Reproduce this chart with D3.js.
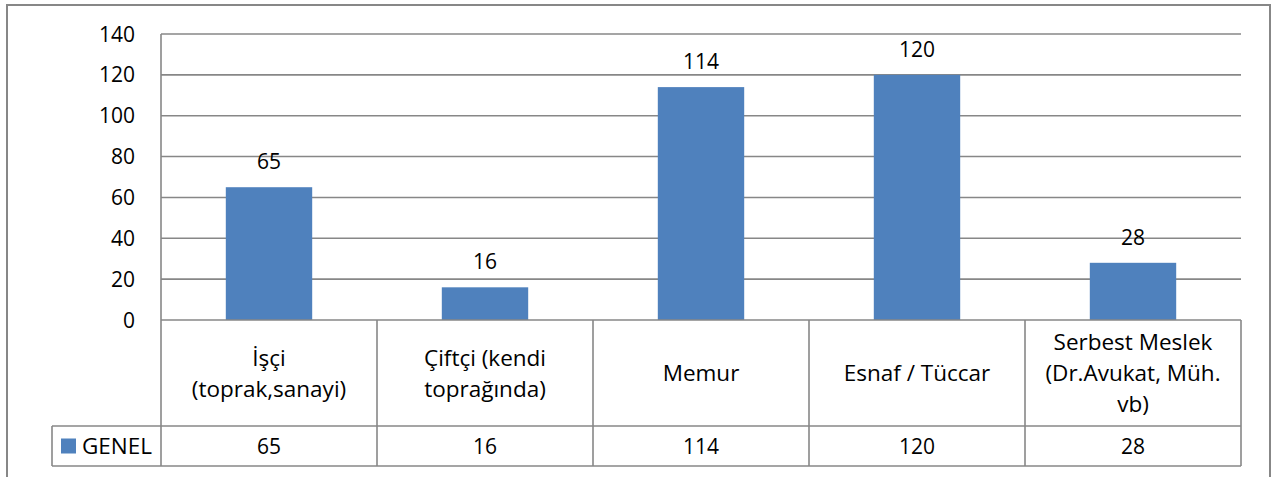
<!DOCTYPE html>
<html>
<head>
<meta charset="utf-8">
<script src="https://cdn.jsdelivr.net/npm/d3@7"></script>
<style>
  body { margin: 0; background: #fff; }
  svg { display: block; font-family: "Open Sans", "Liberation Sans", sans-serif; }
</style>
</head>
<body>
<svg id="chart"></svg>
<script>
// chart data
const categories = [
  ["İşçi", "(toprak,sanayi)"],
  ["Çiftçi (kendi", "toprağında)"],
  ["Memur"],
  ["Esnaf / Tüccar"],
  ["Serbest Meslek", "(Dr.Avukat, Müh.", "vb)"]
];
const seriesName = "GENEL";
const values = [65, 16, 114, 120, 28];
const yTicks = [0, 20, 40, 60, 80, 100, 120, 140];

const width = 1274, height = 477;
const plot = { left: 161, right: 1241, top: 34, bottom: 320 };
const tableRow1 = 426, tableBottom = 466, legendLeft = 52;
const gridColor = "#878787";
const barColor = "#4f81bd";
const numSize = 21, textSize = 22.5;

const svg = d3.select("#chart").attr("width", width).attr("height", height);

// outer chart frame (bottom runs off the picture)
svg.append("path")
  .attr("d", `M7,${height + 2} V5 H1270 V${height + 2}`)
  .attr("fill", "none")
  .attr("stroke", gridColor)
  .attr("stroke-width", 2);

const idx = categories.map((d, i) => i);

const x = d3.scaleBand()
  .domain(idx)
  .range([plot.left, plot.right])
  .paddingInner(0.6)
  .paddingOuter(0.3);

const xCol = d3.scaleBand()
  .domain(idx)
  .range([plot.left, plot.right]);

const y = d3.scaleLinear()
  .domain([0, 140])
  .range([plot.bottom, plot.top]);

// gridlines
svg.append("g")
  .selectAll("line")
  .data(yTicks.slice(1))
  .join("line")
  .attr("x1", plot.left)
  .attr("x2", plot.right)
  .attr("y1", d => y(d))
  .attr("y2", d => y(d))
  .attr("stroke", gridColor)
  .attr("stroke-width", 1.6);

// y axis line
svg.append("line")
  .attr("x1", plot.left).attr("x2", plot.left)
  .attr("y1", plot.top).attr("y2", plot.bottom)
  .attr("stroke", gridColor).attr("stroke-width", 1.6);

// y tick labels
svg.append("g")
  .selectAll("text")
  .data(yTicks)
  .join("text")
  .attr("x", 135)
  .attr("y", d => y(d))
  .attr("dy", "0.36em")
  .attr("text-anchor", "end")
  .attr("font-size", numSize)
  .attr("fill", "#000")
  .text(d => d);

// bars
svg.append("g")
  .selectAll("rect")
  .data(values)
  .join("rect")
  .attr("x", (d, i) => x(i))
  .attr("width", x.bandwidth())
  .attr("y", d => y(d))
  .attr("height", d => y(0) - y(d))
  .attr("fill", barColor);

// data labels
svg.append("g")
  .selectAll("text")
  .data(values)
  .join("text")
  .attr("x", (d, i) => x(i) + x.bandwidth() / 2)
  .attr("y", d => y(d) - 18)
  .attr("text-anchor", "middle")
  .attr("font-size", numSize)
  .text(d => d);

// data table
const table = svg.append("g")
  .attr("fill", "none")
  .attr("stroke", gridColor)
  .attr("stroke-width", 1.6);

table.append("line")
  .attr("x1", plot.left).attr("x2", plot.right)
  .attr("y1", plot.bottom).attr("y2", plot.bottom);
table.append("line")
  .attr("x1", legendLeft).attr("x2", plot.right)
  .attr("y1", tableRow1).attr("y2", tableRow1);
table.append("line")
  .attr("x1", legendLeft).attr("x2", plot.right)
  .attr("y1", tableBottom).attr("y2", tableBottom);
table.append("line")
  .attr("x1", legendLeft).attr("x2", legendLeft)
  .attr("y1", tableRow1).attr("y2", tableBottom);
table.selectAll("line.col")
  .data(idx.concat([idx.length]))
  .join("line")
  .attr("class", "col")
  .attr("x1", d => d < idx.length ? xCol(d) : plot.right)
  .attr("x2", d => d < idx.length ? xCol(d) : plot.right)
  .attr("y1", plot.bottom)
  .attr("y2", tableBottom);

// category labels
const lineH = 31;
const catMid = (plot.bottom + tableRow1) / 2;
svg.append("g")
  .selectAll("text")
  .data(categories)
  .join("text")
  .attr("text-anchor", "middle")
  .attr("font-size", textSize)
  .each(function(lines, i) {
    const t = d3.select(this);
    const cx = xCol(i) + xCol.bandwidth() / 2;
    const y0 = catMid - (lines.length - 1) * lineH / 2;
    lines.forEach((l, k) => {
      t.append("tspan")
        .attr("x", cx)
        .attr("y", y0 + k * lineH)
        .attr("dy", "0.36em")
        .text(l);
    });
  });

// values row
const rowMid = (tableRow1 + tableBottom) / 2;
svg.append("g")
  .selectAll("text")
  .data(values)
  .join("text")
  .attr("x", (d, i) => xCol(i) + xCol.bandwidth() / 2)
  .attr("y", rowMid)
  .attr("dy", "0.36em")
  .attr("text-anchor", "middle")
  .attr("font-size", numSize)
  .text(d => d);

// legend key
svg.append("rect")
  .attr("x", 61).attr("y", rowMid - 7.5)
  .attr("width", 15).attr("height", 15)
  .attr("fill", barColor);
svg.append("text")
  .attr("x", 82).attr("y", rowMid)
  .attr("dy", "0.36em")
  .attr("font-size", textSize)
  .text(seriesName);
</script>
</body>
</html>
